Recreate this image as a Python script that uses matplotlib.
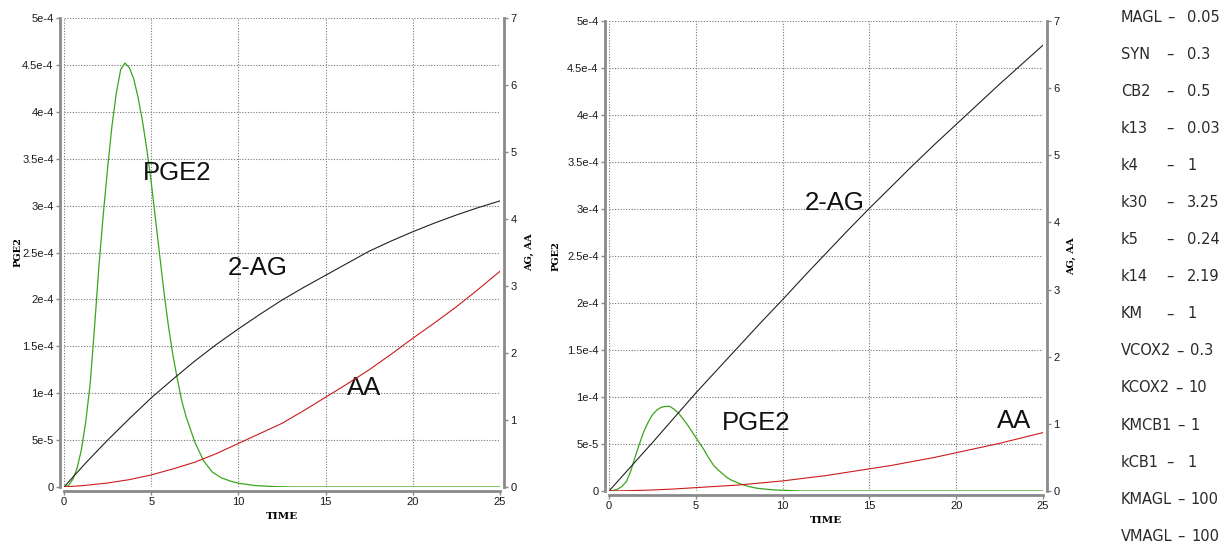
import matplotlib
matplotlib.use("Agg")
from matplotlib import pyplot as plt

# ---- data ----
t_curve = [0, 1.25, 2.5, 3.75, 5, 6.25, 7.5, 8.75, 10, 11.25, 12.5, 13.75, 15,
           16.25, 17.5, 18.75, 20, 21.25, 22.5, 23.75, 25]
t_pge = [0, 0.25, 0.5, 0.75, 1.0, 1.25, 1.5, 1.75, 2.0, 2.25, 2.5, 2.75, 3.0, 3.25,
         3.5, 3.75, 4.0, 4.25, 4.5, 4.75, 5.0, 5.25, 5.5, 5.75, 6.0, 6.25, 6.5,
         6.75, 7.0, 7.5, 8.0, 8.5, 9.0, 9.5, 10, 11, 12, 13, 15, 20, 25]

# left panel
pge2_a = [0, 1.5e-6, 8e-6, 2e-5, 4e-5, 7e-5, 1.1e-4, 1.7e-4, 2.35e-4, 2.9e-4, 3.4e-4,
          3.85e-4, 4.2e-4, 4.45e-4, 4.52e-4, 4.47e-4, 4.35e-4, 4.15e-4, 3.9e-4,
          3.6e-4, 3.25e-4, 2.85e-4, 2.45e-4, 2.05e-4, 1.7e-4, 1.4e-4, 1.15e-4,
          9.2e-5, 7.5e-5, 4.8e-5, 2.8e-5, 1.6e-5, 1e-5, 6.5e-6, 4e-6, 1.5e-6, 5e-7,
          0, 0, 0, 0]
ag_a = [0, 0.36, 0.70, 1.02, 1.33, 1.61, 1.88, 2.13, 2.36, 2.58, 2.79, 2.98, 3.16,
        3.34, 3.52, 3.67, 3.81, 3.94, 4.06, 4.17, 4.27]
aa_a = [0, 0.025, 0.06, 0.11, 0.18, 0.27, 0.37, 0.50, 0.65, 0.80, 0.95, 1.14, 1.34,
        1.54, 1.75, 1.98, 2.22, 2.45, 2.69, 2.95, 3.22]

# right panel
pge2_b = [0, 5e-7, 2e-6, 5e-6, 1e-5, 2.1e-5, 3.6e-5, 5e-5, 6.3e-5, 7.3e-5, 8.1e-5,
          8.6e-5, 8.9e-5, 9.0e-5, 9.0e-5, 8.7e-5, 8.3e-5, 7.7e-5, 7.1e-5, 6.4e-5,
          5.7e-5, 5e-5, 4.3e-5, 3.5e-5, 2.8e-5, 2.3e-5, 1.9e-5, 1.5e-5, 1.2e-5,
          8e-6, 5e-6, 3e-6, 2e-6, 1.2e-6, 8e-7, 0, 0, 0, 0, 0, 0]
ag_b = [0, 0.36, 0.72, 1.09, 1.46, 1.81, 2.16, 2.51, 2.85, 3.20, 3.54, 3.88, 4.21,
        4.53, 4.85, 5.16, 5.46, 5.76, 6.06, 6.35, 6.64]
aa_b = [0, 0.006, 0.015, 0.03, 0.05, 0.07, 0.09, 0.12, 0.15, 0.19, 0.23, 0.28, 0.33,
        0.38, 0.44, 0.50, 0.57, 0.64, 0.71, 0.79, 0.87]

left_ticks = [0, 5e-5, 1e-4, 1.5e-4, 2e-4, 2.5e-4, 3e-4, 3.5e-4, 4e-4, 4.5e-4, 5e-4]
left_ticklabels = ["0", "5e-5", "1e-4", "1.5e-4", "2e-4", "2.5e-4", "3e-4",
                   "3.5e-4", "4e-4", "4.5e-4", "5e-4"]
right_ticks = [0, 1, 2, 3, 4, 5, 6, 7]
x_ticks = [0, 5, 10, 15, 20, 25]

param_names = ["MAGL", "SYN", "CB2", "k13", "k4", "k30", "k5", "k14", "KM",
               "VCOX2", "KCOX2", "KMCB1", "kCB1", "KMAGL", "VMAGL"]
param_values = ["0.05", "0.3", "0.5", "0.03", "1", "3.25", "0.24", "2.19", "1",
                "0.3", "10", "1", "1", "100", "100"]

GREEN = "#3aa51c"
RED = "#cc1a1a"
BLACK = "#222222"
SPINE = "#8a8a8a"
label_font = {"family": "DejaVu Serif", "size": 7, "weight": "bold"}
note_font = {"family": "Liberation Sans", "size": 18.5}

W, H = 1232, 546


def draw_panel(fig, rect, pge2, ag, aa, notes, ylab_x, y2lab_x):
    ax = fig.add_axes(rect)
    ax2 = ax.twinx()

    ax.plot(t_pge, pge2, color=GREEN, lw=0.9)
    ax2.plot(t_curve, ag, color=BLACK, lw=0.8)
    ax2.plot(t_curve, aa, color=RED, lw=0.8)

    ax.set_xlim(0, 25)
    ax.set_ylim(0, 5e-4)
    ax2.set_ylim(0, 7)

    for a in (ax, ax2):
        a.spines["top"].set_visible(False)
        for s in ("left", "right", "bottom"):
            a.spines[s].set_color(SPINE)
            a.spines[s].set_linewidth(2)
            a.spines[s].set_position(("outward", 3))
    ax.spines["right"].set_visible(False)
    ax2.spines["left"].set_visible(False)
    ax2.spines["bottom"].set_visible(False)

    # ticks after the spines are moved (moving a spine resets the ticks)
    ax.set_xticks(x_ticks)
    ax.set_xticklabels([str(v) for v in x_ticks])
    ax.set_yticks(left_ticks)
    ax.set_yticklabels(left_ticklabels)
    ax2.set_yticks(right_ticks)
    ax2.set_yticklabels([str(v) for v in right_ticks])
    for a in (ax, ax2):
        a.tick_params(colors=SPINE, length=3, width=1, labelcolor="#1a1a1a", pad=1.5,
                      labelsize=8, labelfontfamily="Liberation Sans")

    ax.grid(True, linestyle=(0, (1, 1.5)), color="#777777", linewidth=0.8)

    ax.set_xlabel("TIME", fontdict={**label_font, "size": 7.5}, labelpad=3)
    ax2.set_ylabel("AG, AA", fontdict=label_font)
    ax2.yaxis.set_label_coords(y2lab_x, 0.5)

    # left label placed as in the reference, just outside the tick labels
    fig.text(ylab_x / W, (rect[1] + rect[3] / 2), "PGE2", rotation=90,
             ha="center", va="center", **label_font)

    for txt, x, y in notes:
        ax.text(x, y, txt, fontdict=note_font, va="center", ha="left", color="#111111")
    return ax


fig = plt.figure(figsize=(W / 100, H / 100), dpi=100)

draw_panel(fig, [64 / W, 1 - 487 / H, 436 / W, 469 / H],
           pge2_a, ag_a, aa_a,
           [("PGE2", 4.5, 3.35e-4), ("2-AG", 9.4, 2.33e-4), ("AA", 16.2, 1.06e-4)],
           18, (525 - 64) / 436)
draw_panel(fig, [609 / W, 1 - 491 / H, 434 / W, 470 / H],
           pge2_b, ag_b, aa_b,
           [("2-AG", 11.3, 3.06e-4), ("PGE2", 6.5, 7.2e-5), ("AA", 22.35, 7.5e-5)],
           556, (1067 - 609) / 434)

# parameter list on the right: name, dash and value placed like tab stops
renderer = fig.canvas.get_renderer()
pfont = {"family": "DejaVu Sans", "size": 10.5, "color": "#2a2a2a"}
for i, (name, val) in enumerate(zip(param_names, param_values)):
    y = 1 - (17 + i * 37.1) / H
    t1 = fig.text(1121 / W, y, name, va="center", **pfont)
    x_end = t1.get_window_extent(renderer).x1
    dash_x = max(1166, x_end + 5)
    t2 = fig.text(dash_x / W, y, "\u2013", va="center", **pfont)
    d_end = t2.get_window_extent(renderer).x1
    val_x = max(1187, d_end + 6)
    fig.text(val_x / W, y, val, va="center", **pfont)

fig.savefig("out.png", dpi=100)
plt.close()
